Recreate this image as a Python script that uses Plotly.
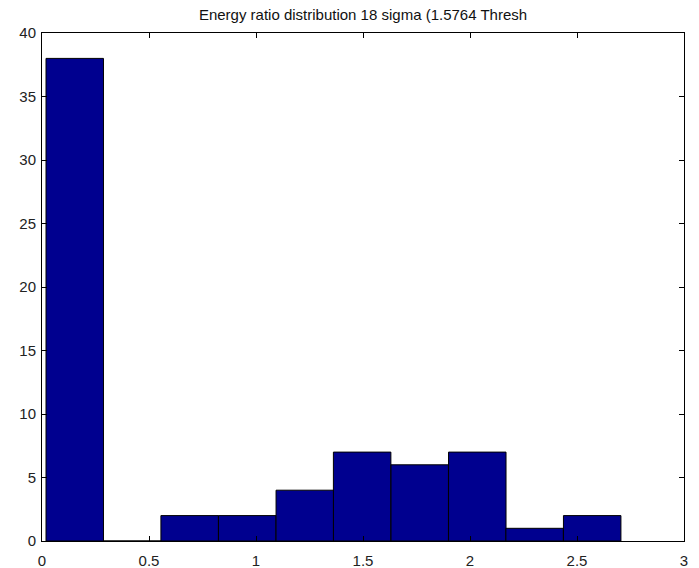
import plotly.graph_objects as go

bin_centers = [0.153, 0.422, 0.690, 0.959, 1.228, 1.496, 1.765, 2.034, 2.302, 2.571]
counts = [38, 0, 2, 2, 4, 7, 6, 7, 1, 2]
bin_width = 0.2686
title_text = "Energy ratio distribution 18 sigma (1.5764 Thresh"

fig = go.Figure(go.Bar(
    x=bin_centers, y=counts, width=[bin_width] * len(counts),
    marker=dict(color="#00008F", line=dict(color="black", width=1)),
))

axis_common = dict(
    showline=True, linecolor="black", linewidth=1, mirror="ticks",
    ticks="inside", ticklen=5, tickcolor="black", showgrid=False, zeroline=False,
    automargin=False,
    tickfont=dict(family="Liberation Sans", size=15, color="#222222"),
)
fig.update_xaxes(range=[0, 3], dtick=0.5, tick0=0, ticklabelstandoff=6, **axis_common)
fig.update_yaxes(range=[0, 40], dtick=5, tick0=0, ticklabelstandoff=2, **axis_common)

fig.update_layout(
    width=699, height=568,
    margin=dict(l=42, r=15, t=33, b=27, autoexpand=False),
    plot_bgcolor="white", paper_bgcolor="white",
    showlegend=False,
    title=dict(text=title_text, x=0.5, xref="paper", xanchor="center",
               y=0.974, yref="container", yanchor="middle",
               font=dict(family="Liberation Sans", size=15, color="#111111")),
)

fig.write_html("out.html")
